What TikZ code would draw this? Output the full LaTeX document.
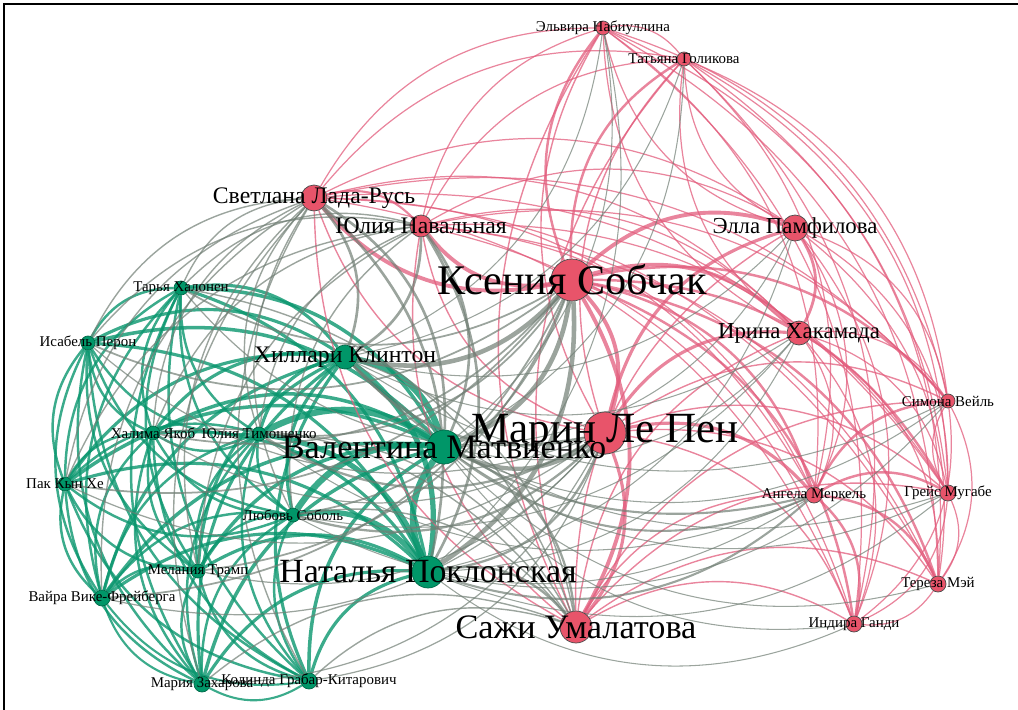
\documentclass[tikz,border=0pt]{standalone}
\usepackage{fontspec}
\setmainfont{Liberation Serif}
\usetikzlibrary{backgrounds}
\definecolor{femred}{RGB}{232,84,106}
\definecolor{femgreen}{RGB}{0,150,104}
\definecolor{edgepink}{RGB}{226,92,124}
\definecolor{edgegreen}{RGB}{10,150,110}
\definecolor{edgegray}{RGB}{112,126,116}

\begin{document}
\begin{tikzpicture}[
    x=0.02cm, y=-0.02cm,
    rdot/.style={
        circle,
        fill=femred,
        draw=black!70,
        line width=0.4pt,
        inner sep=0pt,
        minimum size=#1
    },
    gdot/.style={
        circle,
        fill=femgreen,
        draw=femgreen!70!black,
        line width=0.4pt,
        inner sep=0pt,
        minimum size=#1
    },
    lbl/.style={
        font=\fontsize{#1}{#1}\selectfont,
        inner sep=0pt,
        text=black
    },
    gg/.style={edgegreen, opacity=.8, line width=#1, bend right=30},
    rr/.style={edgepink, opacity=.75, line width=#1, bend left=30},
    xx/.style={edgegray, opacity=.7, line width=#1, bend left=30}
]
\useasboundingbox (0,0) rectangle (1018,710);

% Frame
\draw[line width=1.2pt] (4,710) -- (4,4) -- (1018,4);

% Red community
\node[rdot=0.28cm] (nabiullina) at (603,28) {};
\node[rdot=0.28cm] (golikova) at (684,59) {};
\node[rdot=0.52cm] (ladarus) at (314,198) {};
\node[rdot=0.44cm] (navalnaya) at (421,226) {};
\node[rdot=0.52cm] (pamfilova) at (795,228) {};
\node[rdot=0.84cm] (sobchak) at (572,280) {};
\node[rdot=0.48cm] (hakamada) at (799,333) {};
\node[rdot=0.28cm] (veil) at (948,401) {};
\node[rdot=0.84cm] (lepen) at (605,433) {};
\node[rdot=0.32cm] (merkel) at (814,495) {};
\node[rdot=0.32cm] (mugabe) at (948,493) {};
\node[rdot=0.32cm] (mei) at (938,584) {};
\node[rdot=0.32cm] (gandhi) at (854,624) {};
\node[rdot=0.64cm] (umalatova) at (576,627) {};

% Green community
\node[gdot=0.28cm] (halonen) at (181,288) {};
\node[gdot=0.28cm] (peron) at (88,343) {};
\node[gdot=0.48cm] (clinton) at (345,357) {};
\node[gdot=0.28cm] (yakob) at (153,433) {};
\node[gdot=0.28cm] (timoshenko) at (259,434) {};
\node[gdot=0.68cm] (matvienko) at (444,447) {};
\node[gdot=0.28cm] (pak) at (65,484) {};
\node[gdot=0.28cm] (sobol) at (293,515) {};
\node[gdot=0.28cm] (melania) at (198,571) {};
\node[gdot=0.64cm] (poklonskaya) at (428,572) {};
\node[gdot=0.32cm] (vike) at (102,598) {};
\node[gdot=0.32cm] (zaharova) at (202,684) {};
\node[gdot=0.32cm] (grabar) at (309,681) {};

\begin{pgfonlayer}{background}
% Green-green edges
\draw[gg=3.6pt] (matvienko) edge (poklonskaya) edge (clinton) edge (timoshenko) edge (sobol);
\draw[gg=2pt] (matvienko) edge (halonen) edge (peron) edge (yakob) edge (pak) edge (vike) edge (melania) edge (zaharova) edge (grabar);
\draw[gg=3pt] (poklonskaya) edge (clinton) edge (timoshenko) edge (sobol);
\draw[gg=1.8pt] (poklonskaya) edge (halonen) edge (peron) edge (yakob) edge (pak) edge (vike) edge (melania) edge (zaharova) edge (grabar);
\draw[gg=1.8pt] (clinton) edge (halonen) edge (peron) edge (yakob) edge (timoshenko) edge (pak) edge (sobol) edge (melania) edge (vike) edge (zaharova) edge (grabar);
\draw[gg=1.4pt] (halonen) edge (peron) edge (yakob) edge (timoshenko) edge (pak) edge (sobol) edge (melania) edge (vike) edge (zaharova) edge (grabar);
\draw[gg=1.4pt] (peron) edge (yakob) edge (timoshenko) edge (pak) edge (sobol) edge (melania) edge (vike) edge (zaharova) edge (grabar);
\draw[gg=1.4pt] (yakob) edge (timoshenko) edge (pak) edge (sobol) edge (melania) edge (vike) edge (zaharova) edge (grabar);
\draw[gg=1.4pt] (timoshenko) edge (pak) edge (sobol) edge (melania) edge (vike) edge (zaharova) edge (grabar);
\draw[gg=1.4pt] (pak) edge (sobol) edge (melania) edge (vike) edge (zaharova) edge (grabar);
\draw[gg=1.4pt] (sobol) edge (melania) edge (vike) edge (zaharova) edge (grabar);
\draw[gg=1.4pt] (melania) edge (vike) edge (zaharova) edge (grabar);
\draw[gg=1.2pt] (vike) edge (zaharova) edge (grabar);
\draw[gg=1.2pt] (zaharova) edge (grabar);

% Red-red edges
\draw[rr=2.2pt] (sobchak) edge (lepen) edge (navalnaya) edge (ladarus) edge (pamfilova) edge (hakamada) edge (umalatova);
\draw[rr=1.4pt] (sobchak) edge (nabiullina) edge (golikova) edge (merkel) edge (veil) edge (mugabe) edge (mei) edge (gandhi);
\draw[rr=1.8pt] (lepen) edge (umalatova) edge (hakamada) edge (pamfilova) edge (merkel);
\draw[rr=0.8pt] (lepen) edge (ladarus) edge (navalnaya) edge (nabiullina) edge (golikova) edge (veil) edge (mugabe) edge (mei) edge (gandhi);
\draw[rr=0.8pt] (umalatova) edge (ladarus) edge (navalnaya) edge (pamfilova) edge (hakamada) edge (merkel) edge (gandhi) edge (mei) edge (mugabe) edge (veil) edge (nabiullina) edge (golikova);
\draw[rr=1.2pt] (ladarus) edge (navalnaya);
\draw[rr=0.7pt] (ladarus) edge (nabiullina) edge (golikova) edge (pamfilova) edge (hakamada) edge (merkel) edge (veil) edge (mugabe) edge (mei) edge (gandhi);
\draw[rr=0.7pt] (navalnaya) edge (nabiullina) edge (golikova) edge (pamfilova) edge (hakamada) edge (merkel) edge (veil) edge (mugabe) edge (mei) edge (gandhi);
\draw[rr=1.6pt] (pamfilova) edge (hakamada);
\draw[rr=0.7pt] (pamfilova) edge (nabiullina) edge (golikova) edge (merkel) edge (veil) edge (mugabe) edge (mei) edge (gandhi);
\draw[rr=0.7pt] (hakamada) edge (nabiullina) edge (golikova) edge (merkel) edge (veil) edge (mugabe) edge (mei) edge (gandhi);
\draw[rr=1.4pt] (merkel) edge (mugabe) edge (mei) edge (gandhi) edge (veil);
\draw[rr=0.7pt] (mugabe) edge (veil) edge (mei) edge (gandhi);
\draw[rr=0.7pt] (veil) edge (mei) edge (gandhi);
\draw[rr=0.7pt] (mei) edge (gandhi);
\draw[rr=0.7pt] (nabiullina) edge (golikova) edge (merkel) edge (veil) edge (mugabe) edge (mei) edge (gandhi);
\draw[rr=0.7pt] (golikova) edge (merkel) edge (veil) edge (mugabe) edge (mei) edge (gandhi);

% Mixed edges
\draw[xx=2.6pt] (sobchak) edge (clinton) edge (matvienko) edge (poklonskaya);
\draw[xx=1pt] (sobchak) edge (timoshenko) edge (sobol) edge (halonen) edge (peron) edge (yakob) edge (pak) edge (melania) edge (vike);
\draw[xx=2.4pt] (lepen) edge (matvienko);
\draw[xx=1.3pt] (lepen) edge (poklonskaya) edge (clinton) edge (timoshenko) edge (sobol);
\draw[xx=0.7pt] (lepen) edge (halonen) edge (peron) edge (yakob) edge (pak) edge (vike) edge (melania) edge (grabar) edge (zaharova);
\draw[xx=1.5pt] (ladarus) edge (clinton) edge (matvienko) edge (poklonskaya);
\draw[xx=0.8pt, bend right=30] (ladarus) edge (timoshenko) edge (halonen) edge (peron) edge (yakob) edge (pak) edge (sobol) edge (vike) edge (melania) edge (grabar) edge (zaharova);
\draw[xx=1.5pt] (navalnaya) edge (clinton) edge (matvienko) edge (poklonskaya);
\draw[xx=0.8pt, bend right=30] (navalnaya) edge (timoshenko) edge (halonen) edge (sobol) edge (peron) edge (yakob) edge (pak) edge (melania);
\draw[xx=1.3pt, bend right=30] (umalatova) edge (poklonskaya) edge (matvienko);
\draw[xx=0.8pt, bend right=30] (umalatova) edge (clinton) edge (sobol) edge (grabar) edge (zaharova) edge (timoshenko) edge (halonen) edge (yakob);
\draw[xx=1.2pt] (merkel) edge (matvienko) edge (poklonskaya) edge (clinton);
\draw[xx=0.6pt] (merkel) edge (sobol) edge (timoshenko);
\draw[xx=0.6pt] (pamfilova) edge (matvienko) edge (clinton) edge (poklonskaya);
\draw[xx=0.6pt] (hakamada) edge (matvienko) edge (clinton) edge (poklonskaya) edge (sobol);
\draw[xx=0.6pt] (golikova) edge (clinton) edge (matvienko);
\draw[xx=0.6pt] (nabiullina) edge (matvienko) edge (clinton) edge (poklonskaya);
\draw[xx=0.6pt] (veil) edge (matvienko) edge (poklonskaya) edge (clinton);
\draw[xx=0.6pt] (mugabe) edge (poklonskaya) edge (matvienko) edge (clinton);
\draw[xx=0.6pt] (mei) edge (matvienko);
\draw[xx=0.6pt] (gandhi) edge (poklonskaya) edge (matvienko);
\end{pgfonlayer}

% Labels
\node[lbl=8.5] (nabiullina-t) at (nabiullina) {Эльвира Набиуллина};
\node[lbl=8.5] (golikova-t) at (golikova) {Татьяна Голикова};
\node[lbl=13.5] (ladarus-t) at (ladarus) {Светлана Лада-Русь};
\node[lbl=13.5] (navalnaya-t) at (navalnaya) {Юлия Навальная};
\node[lbl=13] (pamfilova-t) at (pamfilova) {Элла Памфилова};
\node[lbl=24] (sobchak-t) at (sobchak) {Ксения Собчак};
\node[lbl=13] (hakamada-t) at (hakamada) {Ирина Хакамада};
\node[lbl=8.5] (veil-t) at (veil) {Симона Вейль};
\node[lbl=24.5] (lepen-t) at (lepen) {Марин Ле Пен};
\node[lbl=8.5] (merkel-t) at (merkel) {Ангела Меркель};
\node[lbl=8.5] (mugabe-t) at (mugabe) {Грейс Мугабе};
\node[lbl=8.5] (mei-t) at (mei) {Тереза Мэй};
\node[lbl=8.5] (gandhi-t) at (gandhi) {Индира Ганди};
\node[lbl=19.5] (umalatova-t) at (umalatova) {Сажи Умалатова};

\node[lbl=8.5] (halonen-t) at (halonen) {Тарья Халонен};
\node[lbl=8.5] (peron-t) at (peron) {Исабель Перон};
\node[lbl=13.5] (clinton-t) at (clinton) {Хиллари Клинтон};
\node[lbl=8.5] (yakob-t) at (yakob) {Халима Якоб};
\node[lbl=8.5] (timoshenko-t) at (timoshenko) {Юлия Тимошенко};
\node[lbl=19.5] (matvienko-t) at (matvienko) {Валентина Матвиенко};
\node[lbl=8.5] (pak-t) at (pak) {Пак Кын Хе};
\node[lbl=8.5] (sobol-t) at (sobol) {Любовь Соболь};
\node[lbl=8.5] (melania-t) at (melania) {Мелания Трамп};
\node[lbl=19.3] (poklonskaya-t) at (poklonskaya) {Наталья Поклонская};
\node[lbl=8.5] (vike-t) at (vike) {Вайра Вике-Фрейберга};
\node[lbl=8.5] (zaharova-t) at (zaharova) {Мария Захарова};
\node[lbl=8.5] (grabar-t) at (grabar) {Колинда Грабар-Китарович};

\end{tikzpicture}
\end{document}
